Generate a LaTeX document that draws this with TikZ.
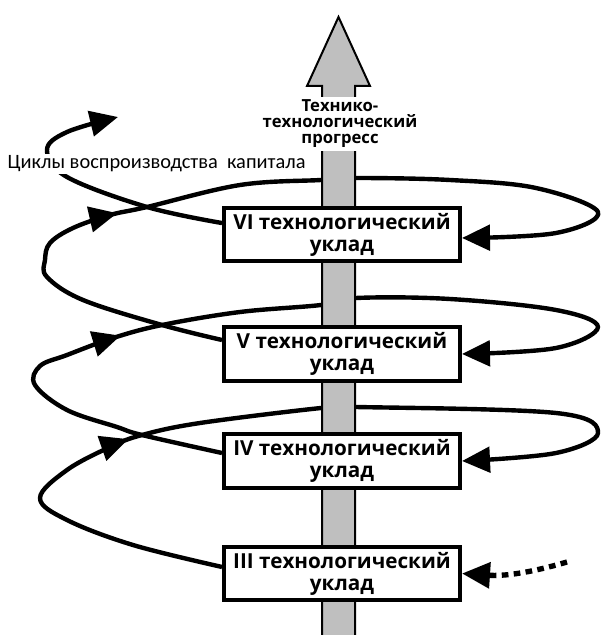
\documentclass[tikz,border=0pt]{standalone}
\usepackage{fontspec}
\setmainfont{Carlito}
\newfontfamily\uklfont{Open Sans}
\usetikzlibrary{arrows.meta,decorations.markings}
\pgfdeclarelayer{loops}
\pgfdeclarelayer{axis}
\pgfsetlayers{loops,axis,main}

\begin{document}
\begin{tikzpicture}[x=0.75pt,y=-0.75pt,
  uklad/.style={draw,line width=3pt,fill=white,minimum width=177pt,minimum height=40pt,
    inner sep=0pt,align=center,font=\uklfont\bfseries\fontsize{15.5}{16.5}\selectfont},
  loopline/.style={line width=3.3pt,line join=round},
  bigtip/.style={-{Triangle[length=21pt,width=19pt]}},
  midarrow/.style={postaction={decorate},decoration={markings,
    mark=at position #1 with {\arrow{Triangle[length=21pt,width=19pt]}}}},
  dotline/.style={line width=4pt,dash pattern=on 5pt off 4pt}]
\useasboundingbox (0,0) rectangle (601,635);
%\draw[step=50,gray,very thin] (0,0) grid (601,635);

% progress axis
\begin{pgfonlayer}{axis}
\draw[line width=1.5pt,fill=black!25] (322,635) -- (322,86) -- (307,86) -- (338.5,17) -- (370,86) -- (355,86) -- (355,635);
\end{pgfonlayer}
\node[fill=white,align=center,inner sep=2pt,font=\uklfont\bfseries\fontsize{12.5}{12}\selectfont] (progress) at (340,124) {Технико-\\технологический\\прогресс};

% uklady
\node[uklad] (VI) at (342,234.5) {VI технологический\\уклад};
\node[uklad] (V) at (342,354) {V технологический\\уклад};
\node[uklad] (IV) at (342,461) {IV технологический\\уклад};
\node[uklad] (III) at (342,573.5) {III технологический\\уклад};

\node[fill=white,inner sep=1pt,anchor=west,font=\fontsize{15.3}{17}\selectfont] (cycles) at (6,164) {Циклы воспроизводства\ \ капитала};
\coordinate (exit) at (118,117);
\coordinate (start) at (567,562);

%------------------------------------------------
\begin{pgfonlayer}{loops}
\draw[loopline,bigtip,midarrow=0.33] plot[smooth,tension=0.6] coordinates {([yshift=4.9pt]III.west) (133,545) (67,520) (40,498) (67,470) (110,447) (142,435) (200,423) (321,408) (356,407) (556,413) (598,433) (556,453) (IV.east)};
\draw[loopline,bigtip,midarrow=0.33] plot[smooth,tension=0.6] coordinates {([yshift=6pt]IV.west) (142,435) (117,427) (67,410) (35,385) (40,366) (67,355) (113,338) (162,325) (240,312) (321,305) (356,298) (450,299) (556,310) (598,327) (556,348) (V.east)};
\draw[loopline,bigtip,midarrow=0.32] plot[smooth,tension=0.6] coordinates {([yshift=10.5pt]V.west) (162,325) (83,300) (47,277) (45,260) (50,243) (73,228) (110,215) (147,207) (240,185) (321,180) (356,178) (450,180) (536,188) (598,212) (556,233) ([yshift=-2.6pt]VI.east)};
\draw[loopline,bigtip] plot[smooth,tension=0.6] coordinates {([yshift=8.6pt]VI.west) (147,207) (67,177) (47,150) (67,132) (exit)};
\end{pgfonlayer}
\draw[dotline,bigtip] (start) to[bend left=10] (III.east);
\end{tikzpicture}
\end{document}
